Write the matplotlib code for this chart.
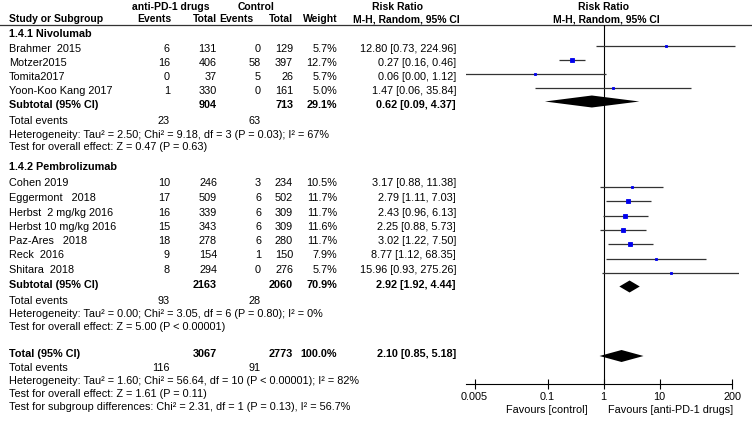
import numpy as np
import matplotlib
matplotlib.use("Agg")
import matplotlib.pyplot as plt

plt.rcParams['font.family'] = ['Liberation Sans', 'DejaVu Sans']

# 1.4.1 Nivolumab
nivo_names = ["Brahmer  2015", "Motzer2015", "Tomita2017", "Yoon-Koo Kang 2017"]
nivo_ev_t = [6, 16, 0, 1]
nivo_tot_t = [131, 406, 37, 330]
nivo_ev_c = [0, 58, 5, 0]
nivo_tot_c = [129, 397, 26, 161]
nivo_w = [5.7, 12.7, 5.7, 5.0]
nivo_rr = [12.80, 0.27, 0.06, 1.47]
nivo_lo = [0.73, 0.16, 0.00, 0.06]
nivo_hi = [224.96, 0.46, 1.12, 35.84]
nivo_sub = dict(tot_t=904, tot_c=713, w=29.1, rr=0.62, lo=0.09, hi=4.37, ev_t=23, ev_c=63)
nivo_het = "Heterogeneity: Tau² = 2.50; Chi² = 9.18, df = 3 (P = 0.03); I² = 67%"
nivo_test = "Test for overall effect: Z = 0.47 (P = 0.63)"

# 1.4.2 Pembrolizumab
pem_names = ["Cohen 2019", "Eggermont   2018", "Herbst  2 mg/kg 2016", "Herbst 10 mg/kg 2016",
             "Paz-Ares   2018", "Reck  2016", "Shitara  2018"]
pem_ev_t = [10, 17, 16, 15, 18, 9, 8]
pem_tot_t = [246, 509, 339, 343, 278, 154, 294]
pem_ev_c = [3, 6, 6, 6, 6, 1, 0]
pem_tot_c = [234, 502, 309, 309, 280, 150, 276]
pem_w = [10.5, 11.7, 11.7, 11.6, 11.7, 7.9, 5.7]
pem_rr = [3.17, 2.79, 2.43, 2.25, 3.02, 8.77, 15.96]
pem_lo = [0.88, 1.11, 0.96, 0.88, 1.22, 1.12, 0.93]
pem_hi = [11.38, 7.03, 6.13, 5.73, 7.50, 68.35, 275.26]
pem_sub = dict(tot_t=2163, tot_c=2060, w=70.9, rr=2.92, lo=1.92, hi=4.44, ev_t=93, ev_c=28)
pem_het = "Heterogeneity: Tau² = 0.00; Chi² = 3.05, df = 6 (P = 0.80); I² = 0%"
pem_test = "Test for overall effect: Z = 5.00 (P < 0.00001)"

# overall
tot = dict(tot_t=3067, tot_c=2773, w=100.0, rr=2.10, lo=0.85, hi=5.18, ev_t=116, ev_c=91)
tot_het = "Heterogeneity: Tau² = 1.60; Chi² = 56.64, df = 10 (P < 0.00001); I² = 82%"
tot_test = "Test for overall effect: Z = 1.61 (P = 0.11)"
sub_test = "Test for subgroup differences: Chi² = 2.31, df = 1 (P = 0.13), I² = 56.7%"

ticks = [0.005, 0.1, 1, 10, 200]
tick_labels = ["0.005", "0.1", "1", "10", "200"]

W, H = 752, 422
fs = 7.8
fs_head = 7.5
fig = plt.figure(figsize=(W / 100, H / 100), dpi=100)
ax = fig.add_axes([0, 0, 1, 1])
ax.set_xlim(0, W)
ax.set_ylim(H, 0)
ax.axis("off")

# forest panel (pixel layout: x=1 at 603.5, 56 px per decade)
x_left, x_right, y_top, y_bot = 466, 739, 24.5, 384
fx = fig.add_axes([x_left / W, (H - y_bot) / H, (x_right - x_left) / W, (y_bot - y_top) / H])
fx.set_xscale("log")
fx.set_xlim(10 ** ((x_left - 603.5) / 56), 10 ** ((x_right - 603.5) / 56))
fx.set_ylim(y_bot, y_top)
fx.patch.set_alpha(0)
for s in ["top", "right", "left"]:
    fx.spines[s].set_visible(False)
fx.spines["bottom"].set_bounds(fx.get_xlim()[0], 200)
fx.spines["bottom"].set_linewidth(0.8)
fx.set_yticks([])
fx.set_xticks(ticks)
fx.set_xticklabels(tick_labels)
fx.xaxis.set_minor_locator(matplotlib.ticker.NullLocator())
fx.tick_params(axis="x", direction="inout", length=7, width=0.8, labelsize=fs, pad=2)
fx.axvline(1, color="black", lw=0.8)

# column x positions (right aligned)
X_NAME, X_EVT, X_TOTT, X_EVC, X_TOTC, X_W, X_RR = 9, 170, 217, 261, 293, 337, 456


def txt(x, y, s, ha="left", bold=False, size=fs):
    ax.text(x, y, s, ha=ha, va="center", fontsize=size, fontweight="bold" if bold else "normal")


def head(x, y, s, ha="left"):
    txt(x, y, s, ha=ha, bold=True, size=fs_head)


# header
head(171, 7, "anti-PD-1 drugs", ha="center")
head(256, 7, "Control", ha="center")
head(397, 7, "Risk Ratio", ha="center")
head(604, 7, "Risk Ratio", ha="center")
head(X_NAME, 19.5, "Study or Subgroup")
head(171, 19.5, "Events", ha="right")
head(217, 19.5, "Total", ha="right")
head(253, 19.5, "Events", ha="right")
head(293, 19.5, "Total", ha="right")
head(338, 19.5, "Weight", ha="right")
head(406, 19.5, "M-H, Random, 95% CI", ha="center")
head(606, 19.5, "M-H, Random, 95% CI", ha="center")
ax.plot([0, 752], [24.5, 24.5], color="#333333", lw=0.9)


def study_rows(names, ev_t, tot_t, ev_c, tot_c, w, rr, lo, hi, ys, shift):
    for i, y in enumerate(ys):
        txt(X_NAME, y, names[i])
        txt(X_EVT, y, str(ev_t[i]), ha="right")
        txt(X_TOTT, y, str(tot_t[i]), ha="right")
        txt(X_EVC, y, str(ev_c[i]), ha="right")
        txt(X_TOTC, y, str(tot_c[i]), ha="right")
        txt(X_W, y, f"{w[i]:.1f}%", ha="right")
        txt(X_RR, y, f"{rr[i]:.2f} [{lo[i]:.2f}, {hi[i]:.2f}]", ha="right")
        yf = y + shift
        fx.plot([max(lo[i], 1e-4), hi[i]], [yf, yf], color="#333333", lw=0.9, solid_capstyle="butt")
        size = 0.9 * np.sqrt(w[i]) * 0.72
        fx.plot(rr[i], yf, marker="s", ms=size, color="#0000ee", mec="#0000ee", mew=0.6)


def summary_row(label, d, y, shift):
    txt(X_NAME, y, label, bold=True)
    txt(X_TOTT, y, str(d["tot_t"]), ha="right", bold=True)
    txt(X_TOTC, y, str(d["tot_c"]), ha="right", bold=True)
    txt(X_W, y, f"{d['w']:.1f}%", ha="right", bold=True)
    txt(X_RR, y, f"{d['rr']:.2f} [{d['lo']:.2f}, {d['hi']:.2f}]", ha="right", bold=True)
    yf, h = y + shift, 12
    fx.fill([d["lo"], d["rr"], d["hi"], d["rr"]], [yf, yf - h / 2, yf, yf + h / 2],
            color="black", lw=0)


def events_row(d, y):
    txt(X_NAME, y, "Total events")
    txt(X_EVT, y, str(d["ev_t"]), ha="right")
    txt(X_EVC, y, str(d["ev_c"]), ha="right")


# Nivolumab block
txt(X_NAME, 34, "1.4.1 Nivolumab", bold=True)
study_rows(nivo_names, nivo_ev_t, nivo_tot_t, nivo_ev_c, nivo_tot_c, nivo_w, nivo_rr, nivo_lo, nivo_hi,
           [49.5, 63.5, 77.5, 91.5], -4)
summary_row("Subtotal (95% CI)", nivo_sub, 105.5, -4)
events_row(nivo_sub, 121)
txt(X_NAME, 134.5, nivo_het)
txt(X_NAME, 147.5, nivo_test)

# Pembrolizumab block
txt(X_NAME, 167, "1.4.2 Pembrolizumab", bold=True)
study_rows(pem_names, pem_ev_t, pem_tot_t, pem_ev_c, pem_tot_c, pem_w, pem_rr, pem_lo, pem_hi,
           [183.5, 198, 212.5, 227, 241, 255.5, 270], 3)
summary_row("Subtotal (95% CI)", pem_sub, 284.5, 2)
events_row(pem_sub, 300.5)
txt(X_NAME, 314, pem_het)
txt(X_NAME, 327.5, pem_test)

# Overall
summary_row("Total (95% CI)", tot, 354, 2)
events_row(tot, 368)
txt(X_NAME, 381, tot_het)
txt(X_NAME, 394, tot_test)
txt(X_NAME, 407, sub_test)

txt(588, 410, "Favours [control]", ha="right")
txt(608, 410, "Favours [anti-PD-1 drugs]", ha="left")

fig.savefig("out.png", dpi=100)
